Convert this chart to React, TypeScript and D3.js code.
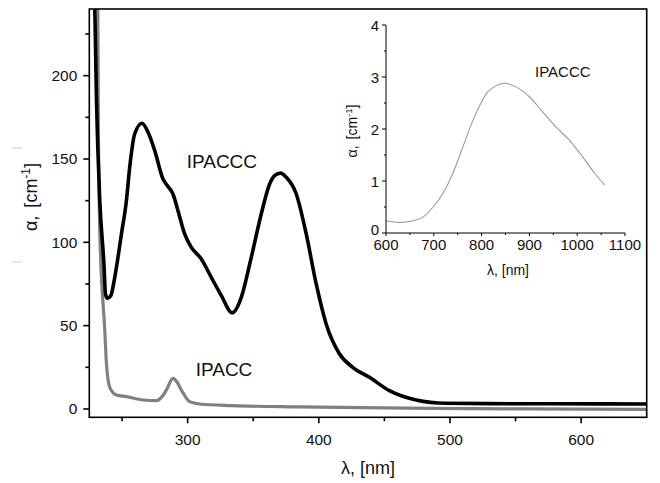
import React from "react";
import * as d3 from "d3";

// Main chart data (wavelength nm, absorption cm^-1)
const ipacccLambda = [226, 229.2, 230.5, 233, 236.3, 237.3, 238.8, 241.4, 244.4, 245.7, 249.5, 253.3, 255.8, 259.6, 265.2, 269.8, 274.9, 281.2, 285, 288.8, 292.6, 297.7, 302.8, 310.4, 318, 325.7, 334, 340.9, 348.5, 356.1, 362.5, 366.3, 370.8, 375.2, 382.8, 390.4, 398, 405.6, 415.8, 425.9, 438.6, 453.8, 474.2, 497, 530, 580, 650];
const ipacccAlpha = [300, 240, 185, 125, 85, 69, 66.5, 68, 79, 85, 105, 125, 145, 165, 171.4, 166, 155, 138, 133.5, 129, 119, 105, 97, 90, 79, 68, 57.7, 67, 91, 117, 135, 140, 141.5, 139, 129, 105, 75, 51, 33, 25, 19, 11, 5.4, 3.4, 3.2, 3.1, 3.0];

const ipaccLambda = [226, 231.5, 231.9, 233, 236.8, 238.1, 240.6, 245.7, 253.3, 266, 276.2, 280, 283.8, 288.8, 292, 295.2, 301.5, 309, 334, 385, 486.6, 560, 650];
const ipaccAlpha = [300, 240, 173, 107, 47, 27, 13, 8.4, 7.4, 5.4, 5, 7, 11.4, 18.4, 16, 11.4, 4.4, 3, 2.0, 1.2, 0.4, 0, -0.2];

// Inset data (near-IR)
const insetLambda = [600, 629, 657, 678, 698.6, 719, 740, 761, 782, 796.6, 810.7, 824.5, 848, 872, 900, 927.7, 955.6, 983, 1011, 1039, 1058];
const insetAlpha = [0.237, 0.205, 0.237, 0.31, 0.5, 0.76, 1.15, 1.66, 2.17, 2.46, 2.69, 2.8, 2.88, 2.81, 2.62, 2.33, 2.04, 1.79, 1.47, 1.12, 0.92];

const xMajor = [300, 400, 500, 600];
const xMinor = [250, 350, 450, 550];
const yMajor = [0, 50, 100, 150, 200];
const yMinor = [25, 75, 125, 175, 225];

const insetXMajor = [600, 700, 800, 900, 1000, 1100];
const insetXMinor = [650, 750, 850, 950, 1050];
const insetYMajor = [0, 1, 2, 3, 4];
const insetYMinor = [0.5, 1.5, 2.5, 3.5];

const FONT = "'Liberation Sans', Arial, Helvetica, sans-serif";

export default function App() {
  const L = 89.3, R = 646.7, T = 9, B = 417.3;
  const x = d3.scaleLinear().domain([225, 650]).range([L, R]);
  const y = d3.scaleLinear().domain([-5, 240]).range([B, T]);

  const ix = d3.scaleLinear().domain([600, 1100]).range([386, 625]);
  const iy = d3.scaleLinear().domain([0, 4]).range([233, 25]);

  const line = d3
    .line<[number, number]>()
    .x((d) => x(d[0]))
    .y((d) => y(d[1]))
    .curve(d3.curveMonotoneX);
  const iline = d3
    .line<[number, number]>()
    .x((d) => ix(d[0]))
    .y((d) => iy(d[1]))
    .curve(d3.curveMonotoneX);

  const blackPts = ipacccLambda.map((l, i) => [l, ipacccAlpha[i]] as [number, number]);
  const grayPts = ipaccLambda.map((l, i) => [l, ipaccAlpha[i]] as [number, number]);
  const insetPts = insetLambda.map((l, i) => [l, insetAlpha[i]] as [number, number]);

  return (
    <svg
      width={660}
      height={483}
      style={{ position: "absolute", left: 0, top: 0, background: "#fff" }}
      fontFamily={FONT}
    >
      <rect x={0} y={0} width={660} height={483} fill="#fff" />
      <defs>
        <clipPath id="plotClip">
          <rect x={L} y={T} width={R - L} height={B - T} />
        </clipPath>
      </defs>

      {/* faint scan marks */}
      <line x1={12} x2={22} y1={148} y2={148} stroke="#d8d8d8" strokeWidth={1.5} />
      <line x1={12} x2={22} y1={262} y2={262} stroke="#e0e0e0" strokeWidth={1.5} />

      {/* curves */}
      <g clipPath="url(#plotClip)">
        <path d={line(grayPts) || ""} fill="none" stroke="#808080" strokeWidth={3.2} strokeLinejoin="round" />
        <path d={line(blackPts) || ""} fill="none" stroke="#000" strokeWidth={3.6} strokeLinejoin="round" />
      </g>

      {/* frame */}
      <rect x={L} y={T} width={R - L} height={B - T} fill="none" stroke="#000" strokeWidth={1.6} />

      {/* main x ticks */}
      {xMajor.map((v) => (
        <g key={"xm" + v}>
          <line x1={x(v)} x2={x(v)} y1={B} y2={B + 6} stroke="#000" strokeWidth={1.6} />
          <text x={x(v)} y={444.5} fontSize={15.5} textAnchor="middle" fill="#111">
            {v}
          </text>
        </g>
      ))}
      {xMinor.map((v) => (
        <line key={"xn" + v} x1={x(v)} x2={x(v)} y1={B} y2={B + 4} stroke="#000" strokeWidth={1.6} />
      ))}

      {/* main y ticks */}
      {yMajor.map((v) => (
        <g key={"ym" + v}>
          <line x1={L - 6} x2={L} y1={y(v)} y2={y(v)} stroke="#000" strokeWidth={1.6} />
          <text x={L - 12} y={y(v) + 5.5} fontSize={15.5} textAnchor="end" fill="#111">
            {v}
          </text>
        </g>
      ))}
      {yMinor.map((v) => (
        <line key={"yn" + v} x1={L - 4} x2={L} y1={y(v)} y2={y(v)} stroke="#000" strokeWidth={1.6} />
      ))}

      {/* main axis titles */}
      <text x={368} y={474} fontSize={18} textAnchor="middle" fill="#111">
        λ, [nm]
      </text>
      <text transform="translate(37,197) rotate(-90)" fontSize={18} textAnchor="middle" fill="#111">
        <tspan>α,</tspan>
        <tspan dx={8}>[cm</tspan>
        <tspan dy={-7} fontSize={12}>-1</tspan>
        <tspan dy={7}>]</tspan>
      </text>

      {/* series labels */}
      <text x={186.7} y={168.3} fontSize={19} fill="#111">
        IPACCC
      </text>
      <text x={195.7} y={376} fontSize={19} fill="#111">
        IPACC
      </text>

      {/* inset */}
      <path d={iline(insetPts) || ""} fill="none" stroke="#9a9a9a" strokeWidth={1.1} />
      <line x1={ix(600)} x2={ix(1100)} y1={iy(0)} y2={iy(0)} stroke="#000" strokeWidth={1} />
      <line x1={ix(600)} x2={ix(600)} y1={iy(0)} y2={iy(4)} stroke="#000" strokeWidth={1} />
      {insetXMajor.map((v) => (
        <g key={"ixm" + v}>
          <line x1={ix(v)} x2={ix(v)} y1={iy(0)} y2={iy(0) + 3} stroke="#000" strokeWidth={1} />
          <text x={ix(v)} y={249.5} fontSize={15} textAnchor="middle" fill="#111">
            {v}
          </text>
        </g>
      ))}
      {insetXMinor.map((v) => (
        <line key={"ixn" + v} x1={ix(v)} x2={ix(v)} y1={iy(0)} y2={iy(0) + 2} stroke="#000" strokeWidth={1} />
      ))}
      {insetYMajor.map((v) => (
        <g key={"iym" + v}>
          <line x1={ix(600) - 4} x2={ix(600)} y1={iy(v)} y2={iy(v)} stroke="#000" strokeWidth={1} />
          <text x={379} y={v === 0 ? iy(v) + 2 : iy(v) + 5.5} fontSize={15} textAnchor="end" fill="#111">
            {v}
          </text>
        </g>
      ))}
      {insetYMinor.map((v) => (
        <line key={"iyn" + v} x1={ix(600) - 2} x2={ix(600)} y1={iy(v)} y2={iy(v)} stroke="#000" strokeWidth={1} />
      ))}
      <text x={508} y={275} fontSize={14} textAnchor="middle" fill="#111">
        λ, [nm]
      </text>
      <text transform="translate(357,131) rotate(-90)" fontSize={14} textAnchor="middle" fill="#111">
        <tspan>α,</tspan>
        <tspan dx={6}>[cm</tspan>
        <tspan dy={-5} fontSize={9.5}>-1</tspan>
        <tspan dy={5}>]</tspan>
      </text>
      <text x={535} y={77.3} fontSize={15} fill="#111">
        IPACCC
      </text>
    </svg>
  );
}
